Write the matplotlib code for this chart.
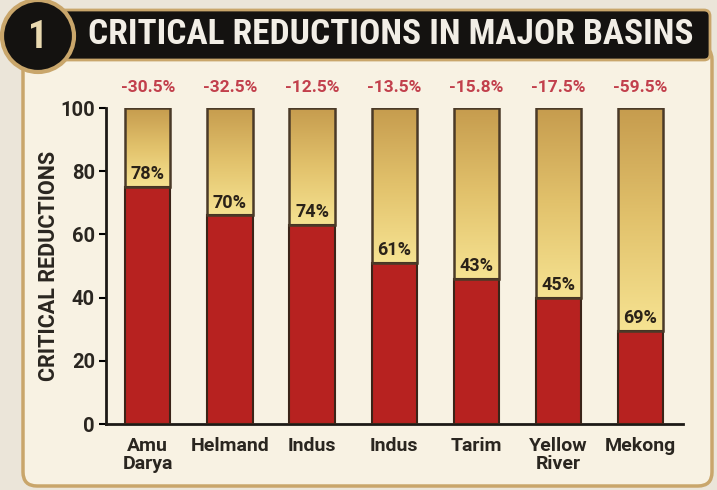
import numpy as np
import matplotlib
matplotlib.use('Agg')
import matplotlib.pyplot as plt
from matplotlib import font_manager
from matplotlib.patches import FancyBboxPatch, Circle
from matplotlib.colors import LinearSegmentedColormap

basins = ['Amu\nDarya', 'Helmand', 'Indus', 'Indus', 'Tarim', 'Yellow\nRiver', 'Mekong']
red_values = [75, 66, 63, 51, 46, 40, 29.5]
inner_labels = ['78%', '70%', '74%', '61%', '43%', '45%', '69%']
top_labels = ['-30.5%', '-32.5%', '-12.5%', '-13.5%', '-15.8%', '-17.5%', '-59.5%']
y_ticks = [0, 20, 40, 60, 80, 100]

names = {f.name for f in font_manager.fontManager.ttflist}
title_font = 'Roboto Condensed' if 'Roboto Condensed' in names else 'Roboto'
plt.rcParams['font.family'] = ['Roboto', 'DejaVu Sans']

W, H = 717, 490
fig = plt.figure(figsize=(W / 100, H / 100), dpi=100)
fig.patch.set_facecolor('#ebe5d9')

# cream panel with tan border (behind the axes)
panel = FancyBboxPatch((23, 4), 689, 440, boxstyle='round,pad=0,rounding_size=14',
                       transform=None, facecolor='#f8f2e3', edgecolor='#c9a66b',
                       linewidth=2.5, zorder=-5)
fig.patches.append(panel)

# title banner
banner = FancyBboxPatch((48, H - 60), 662, 50, boxstyle='round,pad=0,rounding_size=6',
                        transform=None, facecolor='#141210', edgecolor='#c9a66b', linewidth=2, zorder=-4)
fig.patches.append(banner)
ring = Circle((38, H - 36), 36, transform=None, facecolor='#141210', edgecolor='#c9a66b',
              linewidth=3, zorder=-3)
fig.patches.append(ring)
fig.text(38 / W, (H - 38) / H, '1', color='#e9d9b0', fontsize=28, fontweight='bold',
         family=[title_font, 'DejaVu Sans'], ha='center', va='center')
fig.text(88 / W, (H - 35) / H, 'CRITICAL REDUCTIONS IN MAJOR BASINS', color='#f2eee6',
         fontsize=25.5, fontweight='bold', family=[title_font, 'DejaVu Sans'],
         ha='left', va='center')

ax = fig.add_axes([106 / W, 1 - 424 / H, (683 - 106) / W, (424 - 108) / H])
ax.set_facecolor('none')
x = np.arange(len(basins))
width = 0.55

gold = LinearSegmentedColormap.from_list('gold', ['#f6e392', '#e2c26c', '#c69c4e'])
grad = np.linspace(0, 1, 256).reshape(-1, 1)

ax.bar(x, red_values, width, color='#b72220', edgecolor='#3b2418', linewidth=1.5, zorder=3)
for i, v in enumerate(red_values):
    g = ax.bar(x[i], 100 - v, width, bottom=v, color='none', edgecolor='#4a3a28',
               linewidth=1.8, zorder=4)
    im = ax.imshow(grad, aspect='auto', cmap=gold, origin='lower',
                   extent=(x[i] - width / 2, x[i] + width / 2, v, 100), zorder=2)
    im.set_clip_path(g.patches[0])
    ax.text(x[i], v + 1.2, inner_labels[i], ha='center', va='bottom', fontsize=13,
            fontweight='bold', color='#2a2218', zorder=5)
    ax.text(x[i], 104, top_labels[i], ha='center', va='bottom', fontsize=12.5,
            fontweight='bold', color='#c2404c', clip_on=False)

ax.set_xlim(-0.51, 6.52)
ax.set_ylim(0, 100)
ax.set_yticks(y_ticks)
ax.set_xticks(x)
ax.set_xticklabels(basins, fontsize=14, fontweight='bold', color='#2a2620', linespacing=1.0)
ax.tick_params(axis='y', labelsize=14.5, labelcolor='#2a2620', width=1.5, length=5,
               direction='out', pad=3)
for lab in ax.get_yticklabels():
    lab.set_fontweight('bold')
ax.tick_params(axis='x', length=0, pad=9)
ax.set_ylabel('CRITICAL REDUCTIONS', fontsize=15.5, fontweight='bold', color='#2a2620', labelpad=0)

for s in ['top', 'right']:
    ax.spines[s].set_visible(False)
ax.spines['left'].set_linewidth(2)
ax.spines['bottom'].set_linewidth(2)
ax.spines['left'].set_color('#1d1a16')
ax.spines['bottom'].set_color('#1d1a16')

fig.savefig('out.png', dpi=100, facecolor=fig.get_facecolor())
